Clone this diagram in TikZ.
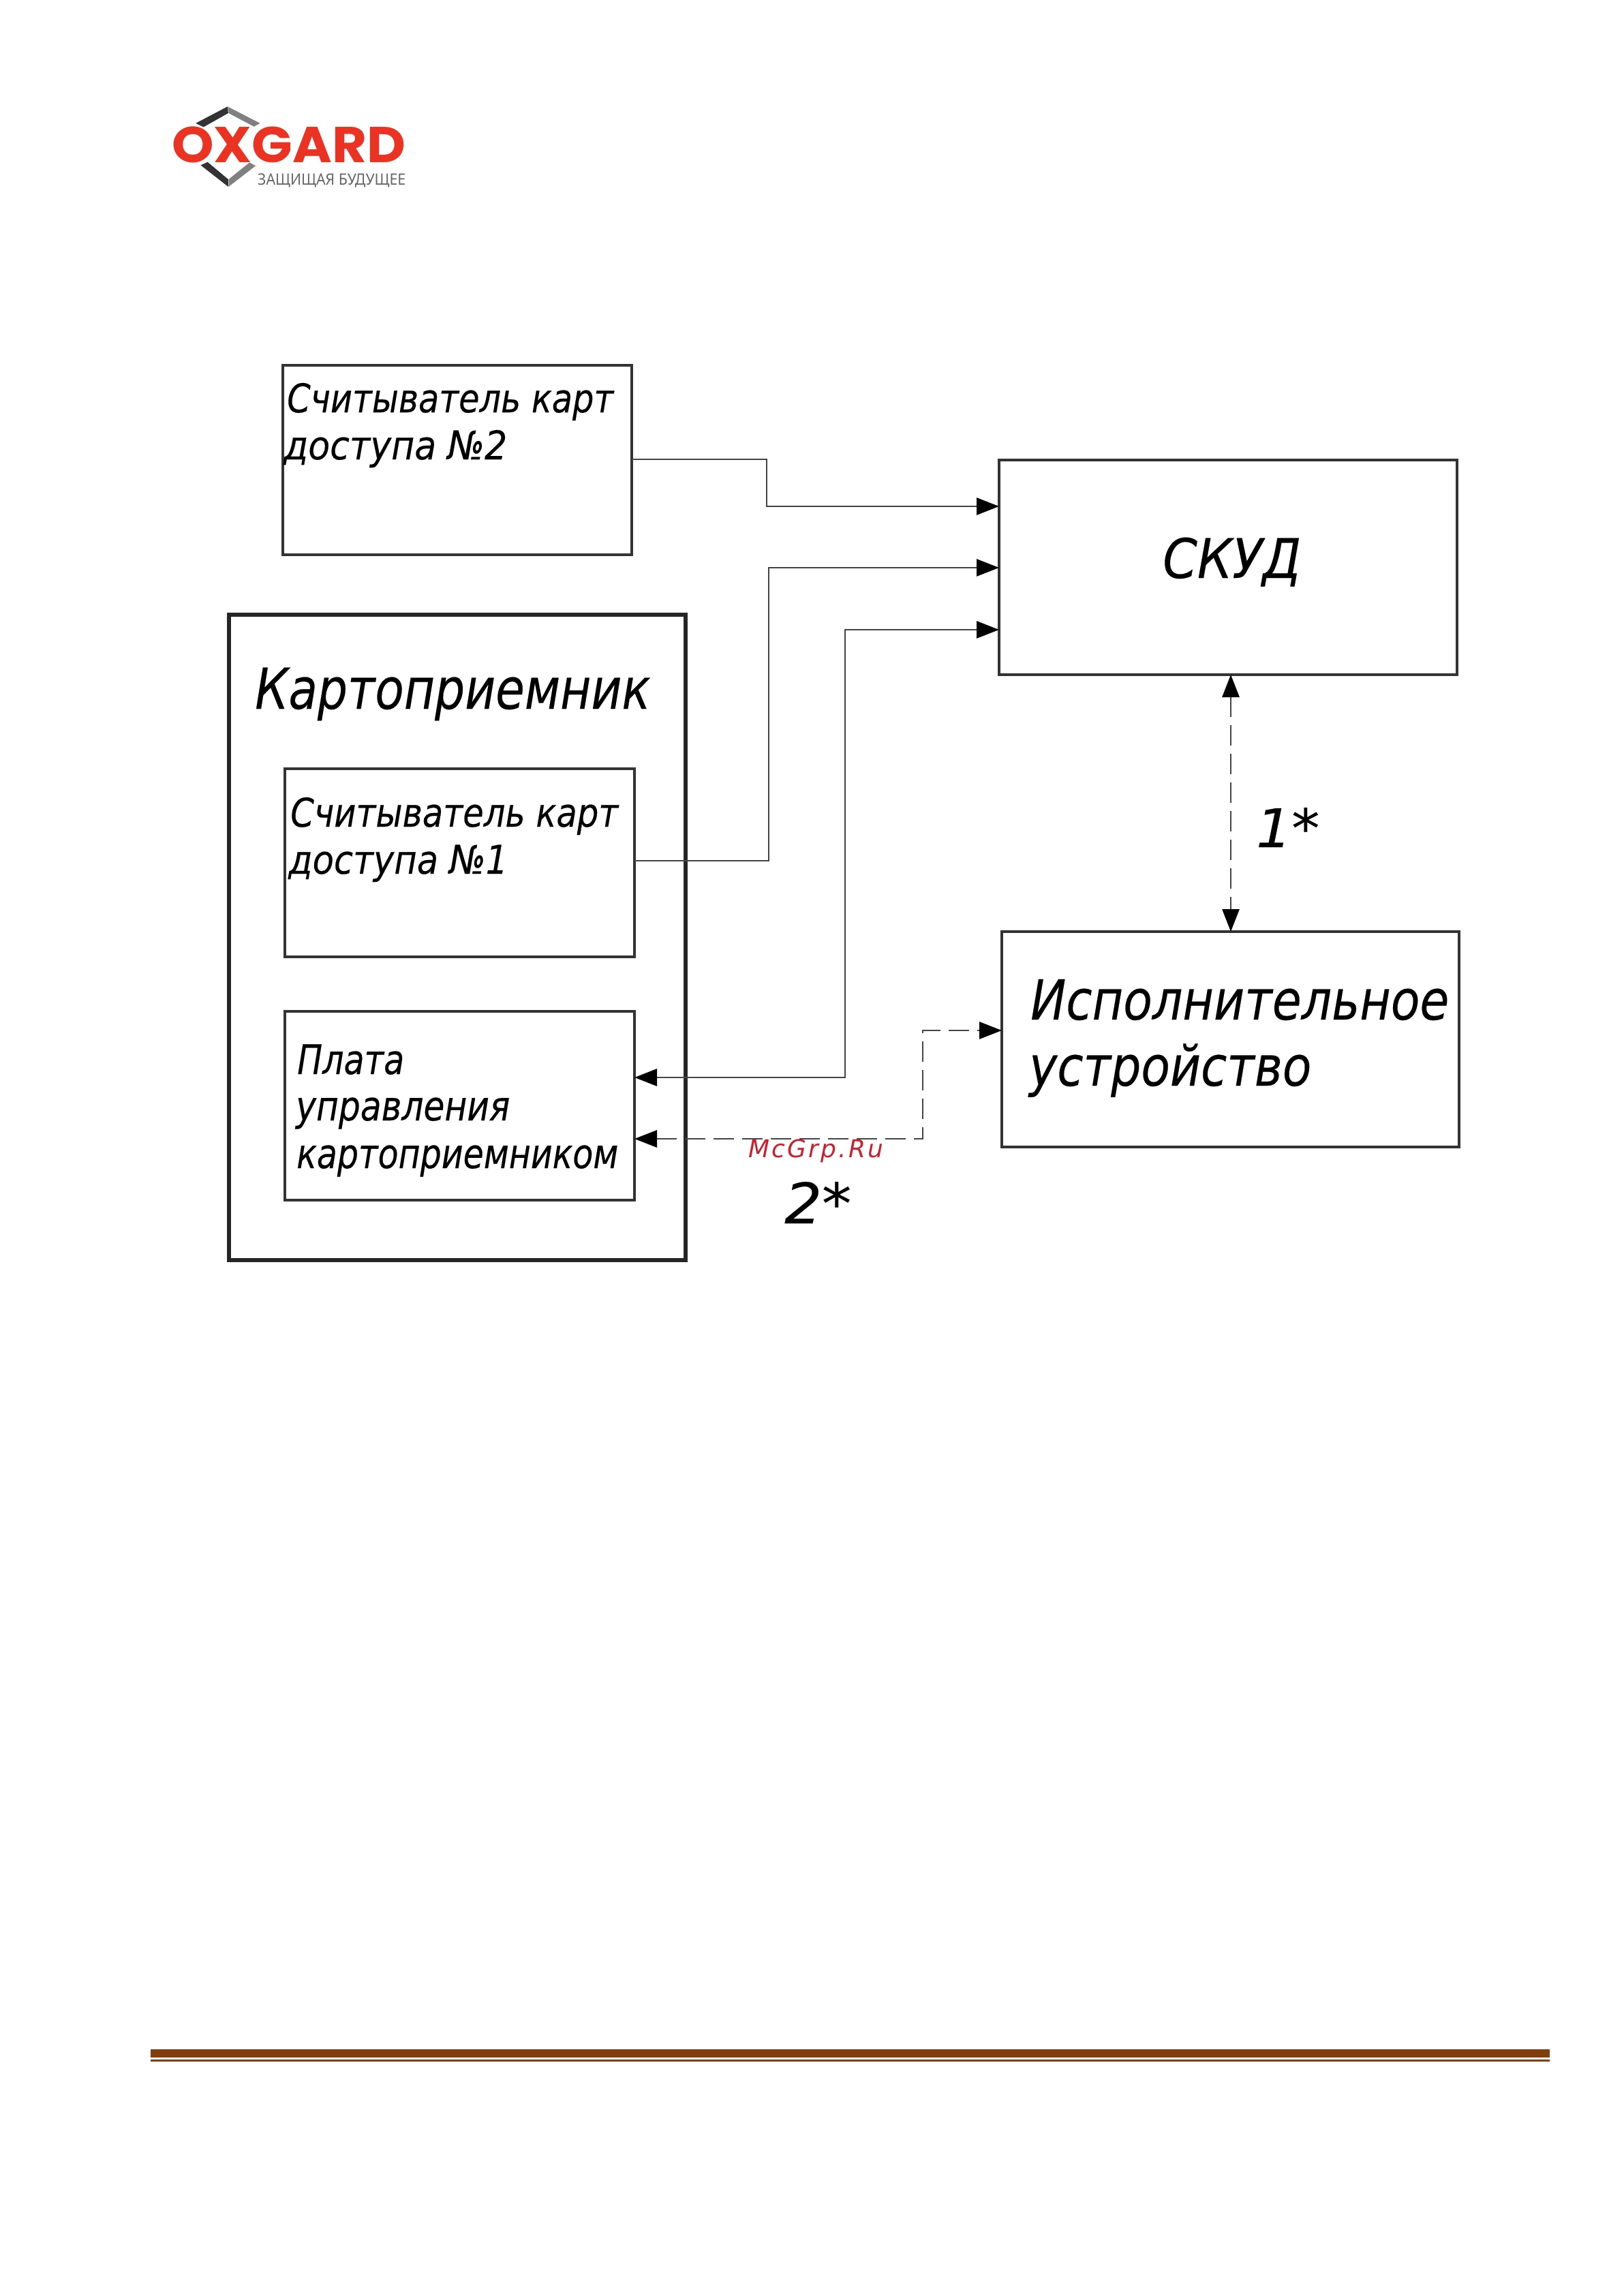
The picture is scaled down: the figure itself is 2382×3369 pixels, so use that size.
\documentclass[tikz,border=0pt]{standalone}
\usepackage{graphicx}
\usepackage{fontspec}
\setmainfont{DejaVu Sans}
\newfontfamily\logofont{Poppins}
\newfontfamily\tagfont{Noto Sans}
\usetikzlibrary{arrows.meta}
\definecolor{rulebrown}{HTML}{833C0B}
\definecolor{logored}{HTML}{EA3323}
\definecolor{linegrey}{HTML}{333333}
\definecolor{wiregrey}{HTML}{444444}
\definecolor{wmred}{HTML}{C8202E}
\newsavebox\fitbox
\newcommand\fs[1]{\pgfmathsetmacro\fsz{#1*0.85358}\fontsize{\fsz pt}{\fsz pt}\selectfont}
% #1 target width in px, #2 em size in px, #3 text
\newcommand\fit[3]{\sbox\fitbox{\fs{#2}#3}\pgfmathsetmacro\fitr{#1*0.85358/\the\wd\fitbox}\scalebox{\fitr}[1]{\usebox\fitbox}}
\tikzset{
  blockbox/.style={draw=linegrey,line width=0.12cm,fill=white,inner sep=0,outer sep=0,anchor=north west},
  outerbox/.style={blockbox,draw=black!85,line width=0.16cm},
  txt/.style={inner sep=0,anchor=base west,font=\itshape\addfontfeature{FakeBold=0.3}},
  wire/.style={draw=wiregrey,line width=0.085cm,{Triangle[length=0.99cm,width=0.75cm,black]}-{Triangle[length=0.99cm,width=0.75cm,black]}},
  wireone/.style={draw=wiregrey,line width=0.085cm,-{Triangle[length=0.99cm,width=0.75cm,black]}},
  dashwire/.style={wire,dash pattern=on 0.9cm off 0.36cm},
}
\begin{document}
\begin{tikzpicture}[x=0.03cm,y=-0.03cm]
\useasboundingbox (0,0) rectangle (2382,3369);
% logo
\begin{scope}[shift={(200,120)},x=0.03cm/3.04,y=-0.03cm/3.04]
\fill[black!80] (265,185) -- (408,110) -- (410,140) -- (300,202) -- cycle;
\fill[black!50] (410,112) -- (552,185) -- (525,200) -- (412,140) -- cycle;
\fill[black!80] (287,372) -- (318,358) -- (410,435) -- (410,468) -- cycle;
\fill[black!50] (412,435) -- (505,360) -- (532,375) -- (412,468) -- cycle;
\end{scope}
\node (oxgard) [inner sep=0,anchor=base west,text=logored] at (252,239) {\fit{343}{74}{\logofont\bfseries OXGARD}};
\node (tagline) [inner sep=0,anchor=base west,text=black!60] at (378,272) {\fit{217}{23}{\tagfont ЗАЩИЩАЯ БУДУЩЕЕ}};
% boxes
\node (card2) [blockbox,minimum width=512*0.03cm,minimum height=278*0.03cm] at (415,536) {};
\node (holder) [outerbox,minimum width=670*0.03cm,minimum height=947*0.03cm] at (336,902) {};
\node (read1) [blockbox,minimum width=513*0.03cm,minimum height=276*0.03cm] at (418,1128) {};
\node (plate) [blockbox,minimum width=513*0.03cm,minimum height=277*0.03cm] at (418,1484) {};
\node (skud) [blockbox,minimum width=672*0.03cm,minimum height=315*0.03cm] at (1466,675) {};
\node (exec) [blockbox,minimum width=671*0.03cm,minimum height=316*0.03cm] at (1470,1367) {};
% connectors
\draw[wireone] (card2.east |- 0,674) -- (1125,674) -- (1125,743) -- (skud.west |- 0,743);
\draw[wireone] (read1.east |- 0,1263) -- (1128,1263) -- (1128,833) -- (skud.west |- 0,833);
\draw[wire] (plate.east |- 0,1581) -- (1240,1581) -- (1240,924) -- (skud.west |- 0,924);
\draw[dashwire] (plate.east |- 0,1671) -- (1354,1671) -- (1354,1512) -- (exec.west |- 0,1512);
\draw[dashwire] (skud.south -| 1806,0) -- (exec.north -| 1806,0);
% texts
\node (t1) [txt] at (421,605) {\fit{479}{58}{Считыватель карт}};
\node (t2) [txt] at (416,674) {\fit{328}{58}{доступа №2}};
\node (t3) [txt] at (374,1040) {\fit{580}{83}{Картоприемник}};
\node (t4) [txt] at (426,1213) {\fit{481}{58}{Считыватель карт}};
\node (t5) [txt] at (423,1282) {\fit{322}{58}{доступа №1}};
\node (t6) [txt] at (436,1576) {\fit{157}{60}{Плата}};
\node (t7) [txt] at (434,1644) {\fit{314}{60}{управления}};
\node (t8) [txt] at (435,1714) {\fit{472}{60}{картоприемником}};
\node (t9) [txt] at (1706,848) {\fit{203}{80}{СКУД}};
\node (t10) [txt] at (1843,1243) {\fit{93}{78}{1*}};
\node (t11) [txt] at (1512,1496) {\fit{614}{81}{Исполнительное}};
\node (t12) [txt] at (1510,1593) {\fit{414}{81}{устройство}};
\node (t13) [txt] at (1151,1795) {\fit{98}{82}{2*}};
\node (wm) [inner sep=0,anchor=base west,text=wmred,font=\itshape\addfontfeature{LetterSpace=9}] at (1098,1698) {\fit{198}{36}{McGrp.Ru}};
% footer rule
\fill[rulebrown] (221,3007) rectangle (2274,3019);
\fill[rulebrown] (221,3022) rectangle (2274,3025);
\end{tikzpicture}
\end{document}
